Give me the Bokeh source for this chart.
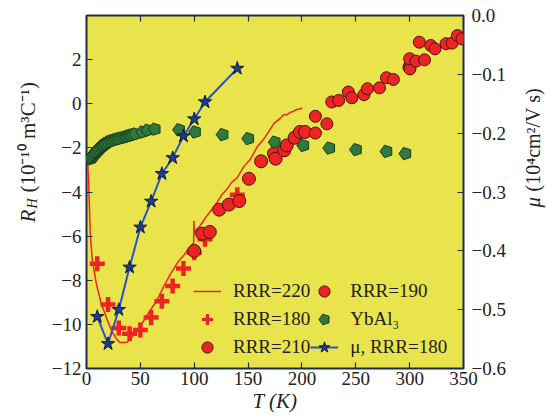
import math
from bokeh.plotting import figure
from bokeh.layouts import row
from bokeh.models import (Range1d, LinearAxis, FixedTicker, CustomJSTickFormatter,
                          Label, Legend, LegendItem)
from bokeh.embed import file_html
from bokeh.resources import INLINE

# ---------------- data ----------------
# RRR=220 continuous Hall coefficient curve
t_220 = [1.0, 2.0, 2.8, 3.5, 5.4, 9.1, 13.7, 18.3, 23.0, 27.6, 31.0, 35.0, 38.0, 41.0,
         44.3, 48.0, 53.5, 58.0, 62.8, 67.0, 72.0, 77.0, 81.3, 86.0, 90.6, 95.0, 99.5,
         99.8, 100.2, 101.0, 104.4, 108.0, 112.2, 117.0, 121.5, 126.0, 130.7, 135.0,
         140.0, 146.0, 152.3, 158.5, 164.6, 169.3, 173.9, 180.0, 183.1, 186.0, 189.4,
         192.0, 195.5, 198.0, 200.2]
rh_220 = [-2.6, -3.5, -4.8, -5.9, -7.1, -8.15, -9.06, -9.67, -10.27, -10.64, -10.82,
          -10.82, -10.8, -10.65, -10.42, -10.2, -9.81, -9.45, -9.1, -8.75, -8.25, -7.8,
          -7.45, -7.1, -6.85, -6.55, -6.3, -5.3, -5.9, -5.75, -5.6, -5.35, -5.05, -4.75,
          -4.45, -4.1, -3.85, -3.55, -3.35, -2.85, -2.5, -1.95, -1.6, -1.25, -0.9, -0.65,
          -0.5, -0.5, -0.38, -0.35, -0.25, -0.25, -0.18]

# RRR=180 crosses and mobility (stars)
t_180 = [10, 20, 30, 40, 50, 60, 70, 80, 90, 100, 110, 140]
rh_180 = [-7.25, -9.10, -10.16, -10.42, -10.26, -9.69, -8.95, -8.26, -7.47, -6.75, -6.14, -4.12]
mu_180 = [-0.512, -0.558, -0.500, -0.428, -0.360, -0.316, -0.269, -0.242, -0.205,
          -0.176, -0.147, -0.090]

# RRR=210 circles
t_210 = [100.0, 107.4, 114.5, 123.2, 132.2, 141.8, 150.8, 162.1, 174.0, 175.6, 183.6,
         185.9, 193.2, 198.1, 202.9]
rh_210 = [-6.67, -5.89, -5.81, -4.80, -4.57, -4.41, -3.40, -2.61, -2.26, -2.49, -2.11,
          -1.89, -1.54, -1.28, -1.28]

# RRR=190 circles
t_190 = [212.5, 212.5, 223.2, 227.7, 234.1, 243.1, 246.3, 257.6, 260.8, 272.0, 278.5,
         284.9, 299.4, 300.3, 300.3, 300.0, 305.8, 309.0, 313.8, 319.6, 323.5, 333.8,
         339.5, 344.4, 348.6]
rh_190 = [-1.33, -0.57, -0.91, 0.08, 0.15, 0.53, 0.27, 0.41, 0.68, 0.72, 1.18, 1.10,
          1.66, 1.74, 1.58, 2.04, 1.93, 2.79, 1.99, 2.64, 2.49, 2.72, 2.75, 3.09, 2.94]

# YbAl3 pentagons
t_yb = [3.5, 4.5, 5.5, 6.8, 8.0, 9.0, 10.5, 11.6, 13.2, 14.5, 15.4, 17.0, 18.0, 20.0,
        22.0, 24.0, 26.0, 28.0, 30.0, 32.5, 35.0, 37.0, 39.0, 41.0, 43.0, 45.3, 52.0,
        56.6, 63.4, 86.0, 100.8, 126.4, 150.2, 174.8, 201.3, 225.4, 250.2, 278.5, 296.1]
rh_yb = [-2.50, -2.45, -2.38, -2.30, -2.24, -2.18, -2.12, -2.05, -1.98, -1.93, -1.88,
         -1.84, -1.80, -1.74, -1.70, -1.67, -1.64, -1.61, -1.58, -1.55, -1.52, -1.49,
         -1.46, -1.43, -1.40, -1.37, -1.28, -1.20, -1.15, -1.18, -1.28, -1.40, -1.58,
         -1.74, -1.89, -2.01, -2.08, -2.16, -2.26]

x_ticks = [0, 50, 100, 150, 200, 250, 300, 350]
rh_ticks = [-12, -10, -8, -6, -4, -2, 0, 2]
mu_ticks = [-0.6, -0.5, -0.4, -0.3, -0.2, -0.1, 0.0]

FONT = "Liberation Serif"
TXT = "#222222"
LEFT_W, RIGHT_W, H = 44, 30, 416

# ---------------- main figure ----------------
p = figure(width=547 - LEFT_W - RIGHT_W, height=H, x_range=Range1d(0, 350),
           y_range=Range1d(-12, 4), output_backend="svg", toolbar_location=None,
           min_border_left=86 - LEFT_W, min_border_right=54, min_border_top=15,
           min_border_bottom=48, background_fill_color="#E9E44B",
           border_fill_color="white", outline_line_color="#1E2D4F", outline_line_width=2)
p.grid.visible = False
p.extra_y_ranges = {"mu": Range1d(-0.6, 0.0)}

def style_axis(ax, standoff):
    ax.axis_line_color = None
    ax.major_tick_in = 6
    ax.major_tick_out = 0
    ax.minor_tick_line_color = None
    ax.major_tick_line_color = "#1E2D4F"
    ax.major_tick_line_width = 1.2
    ax.major_label_text_font = FONT
    ax.major_label_text_font_size = "19px"
    ax.major_label_text_color = TXT
    ax.major_label_standoff = standoff

xa = p.xaxis[0]
xa.ticker = FixedTicker(ticks=x_ticks)
style_axis(xa, 3)
xa.axis_label = "T (K)"
xa.axis_label_text_font = FONT
xa.axis_label_text_font_size = "21px"
xa.axis_label_text_font_style = "italic"
xa.axis_label_text_color = TXT
xa.axis_label_standoff = 1

ya = p.yaxis[0]
ya.ticker = FixedTicker(ticks=rh_ticks)
ya.formatter = CustomJSTickFormatter(code="return (tick < 0 ? '\\u2212' : '') + Math.abs(tick).toFixed(0);")
style_axis(ya, 5)

ra = LinearAxis(y_range_name="mu", ticker=FixedTicker(ticks=mu_ticks),
                formatter=CustomJSTickFormatter(code="return (tick < -1e-9 ? '\\u2212' : '') + Math.abs(tick).toFixed(1);"))
style_axis(ra, 8)
p.add_layout(ra, "right")

ta = LinearAxis(ticker=FixedTicker(ticks=x_ticks))
style_axis(ta, 0)
ta.major_label_text_color = None
ta.major_label_text_font_size = "1px"
p.add_layout(ta, "above")

# ---------------- glyphs ----------------
RED = "#EE2424"
r220 = p.line(t_220, rh_220, line_color=RED, line_width=1.5)
r180 = p.scatter(t_180, rh_180, marker="cross", size=15, line_color=RED, line_width=4.5)
r210 = p.scatter(t_210, rh_210, marker="circle", size=13, fill_color=RED,
                 line_color="#4A1010", line_width=1)
r190 = p.scatter(t_190, rh_190, marker="circle", size=12, fill_color=RED,
                 line_color="#4A1010", line_width=1)
try:
    ryb = p.ngon(x=t_yb, y=rh_yb, radius=6.5, radius_units="screen", n=5, angle=math.pi / 2,
                 fill_color="#2E7A3E", line_color="#1A3A1A", line_width=1)
except Exception:
    ryb = p.scatter(t_yb, rh_yb, marker="hex", size=12, fill_color="#2E7A3E",
                    line_color="#1A3A1A", line_width=1)
rmu_line = p.line(t_180, mu_180, y_range_name="mu", line_color="#2A52C8", line_width=2)
rmu_pts = p.scatter(t_180, mu_180, y_range_name="mu", marker="star", size=14,
                    fill_color="#1F3A93", line_color="#0E1A40", line_width=1)

# hidden twin of the crosses, styled for the legend's smaller marker box
lg180 = p.scatter(t_180, rh_180, marker="cross", size=15, line_color=RED, line_width=3.2,
                  visible=False)

legend = Legend(items=[
    LegendItem(label="RRR=220", renderers=[r220]),
    LegendItem(label="RRR=180", renderers=[lg180]),
    LegendItem(label="RRR=210", renderers=[r210]),
    LegendItem(label="RRR=190", renderers=[r190]),
    LegendItem(label="YbAl\u2083", renderers=[ryb]),
    LegendItem(label="\u03bc, RRR=180", renderers=[rmu_line, rmu_pts]),
], nrows=3, location=(107, 7), label_text_font=FONT, label_text_font_size="19px",
   label_text_color=TXT, label_standoff=12, glyph_width=28, glyph_height=28,
   label_height=20, spacing=0, padding=0, margin=0, background_fill_alpha=0,
   border_line_color=None, click_policy="none")
p.add_layout(legend, "center")

# ---------------- side strips carrying the rotated axis titles ----------------
def strip(width):
    f = figure(width=width, height=H, x_range=Range1d(0, 1), y_range=Range1d(0, 1),
               output_backend="svg", toolbar_location=None, x_axis_type=None,
               y_axis_type=None, min_border=0, outline_line_color=None,
               background_fill_color="white", border_fill_color="white")
    f.grid.visible = False
    return f

def lab(f, text, x, y, size, style="normal"):
    f.add_layout(Label(x=x, y=y, x_units="screen", y_units="screen", text=text,
                       angle=math.pi / 2, text_align="left", text_baseline="middle",
                       text_font=FONT, text_font_size=size, text_font_style=style,
                       text_color=TXT))

left = strip(LEFT_W)
lab(left, "R", 27, 146, "21px", "italic")
lab(left, "H", 32, 160, "14px", "italic")
lab(left, "(10\u207b\u00b9\u2070  m\u00b3C\u207b\u00b9)", 27, 176, "21px")

right = strip(RIGHT_W)
lab(right, "\u03bc", 15, 161, "21px", "italic")
lab(right, "(10\u2074cm\u00b2/V s)", 15, 177, "20px")

layout = row(left, p, right, spacing=0)
open("out.html", "w").write(file_html(layout, INLINE))
